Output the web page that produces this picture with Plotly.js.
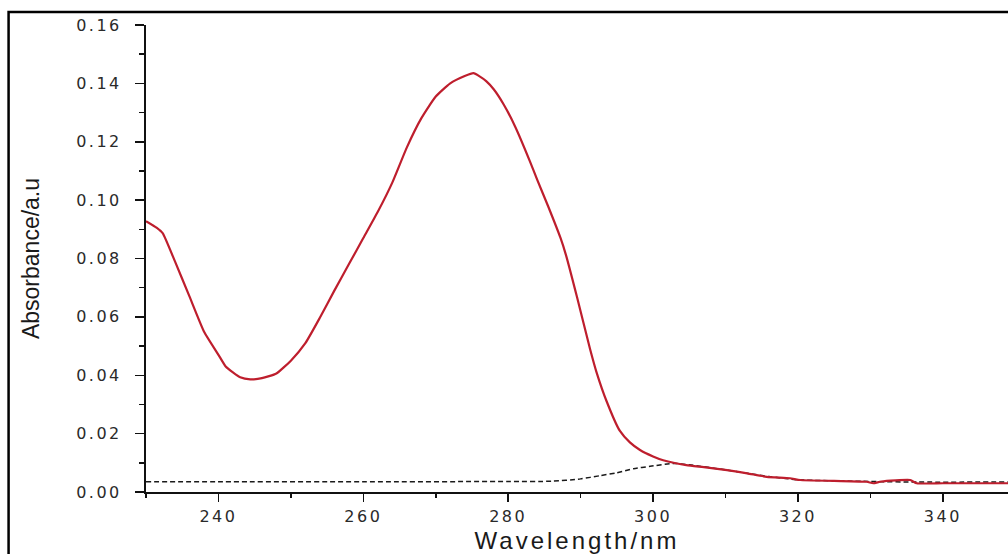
<!DOCTYPE html>
<html>
<head>
<meta charset="utf-8">
<script src="https://cdn.plot.ly/plotly-3.0.1.min.js"></script>
<style>
  html, body { margin: 0; padding: 0; background: #ffffff; }
  #chart { width: 1008px; height: 554px; }
  #chart .ytick text { letter-spacing: 2.5px; }
  #chart .xtick text { letter-spacing: 2.5px; }
  #chart .g-xtitle text { letter-spacing: 3px; }
</style>
</head>
<body>
<div id="chart"></div>
<script>
// Sample spectrum (red solid)
const sampleWavelength = [230, 231.5, 232.3, 234, 236, 238, 240, 241, 242, 243, 244.4, 246, 248, 250, 252, 254, 256, 258, 260, 262, 264, 266, 268, 270, 272, 274, 275.2, 276, 277, 278, 279.4, 281, 283, 284, 285.5, 287.2, 288, 289.5, 291.3, 292.2, 293.6, 295.4, 296.8, 298.2, 300, 301.4, 304.6, 307, 310.2, 313, 315.7, 318.9, 320.3, 325, 329.5, 330.4, 331.5, 335.5, 336.4, 340, 345, 349];
const sampleAbsorbance = [0.0928, 0.0905, 0.0887, 0.079, 0.067, 0.055, 0.047, 0.043, 0.041, 0.0393, 0.0386, 0.039, 0.0406, 0.045, 0.051, 0.0597, 0.069, 0.078, 0.087, 0.096, 0.106, 0.118, 0.128, 0.1355, 0.140, 0.1425, 0.1435, 0.1425, 0.1407, 0.138, 0.1327, 0.125, 0.1133, 0.107, 0.098, 0.0872, 0.081, 0.0668, 0.049, 0.041, 0.031, 0.021, 0.017, 0.0144, 0.0122, 0.0109, 0.0092, 0.0085, 0.0075, 0.0064, 0.0052, 0.0047, 0.0041, 0.0038, 0.0035, 0.003, 0.0036, 0.0041, 0.003, 0.003, 0.003, 0.003];

// Reference / blank spectrum (black dashed)
const blankWavelength = [230, 240, 260, 280, 286, 290, 292.7, 295, 297.3, 299.6, 302.8, 305, 310, 316, 320, 330, 336.4, 349];
const blankAbsorbance = [0.0035, 0.0035, 0.0035, 0.0036, 0.0037, 0.0045, 0.0056, 0.0066, 0.0080, 0.0088, 0.0098, 0.0093, 0.0076, 0.0053, 0.0042, 0.0036, 0.0034, 0.0034];

const yTickValues = [0, 0.02, 0.04, 0.06, 0.08, 0.10, 0.12, 0.14, 0.16];
const yTickLabels = ["0.00", "0.02", "0.04", "0.06", "0.08", "0.10", "0.12", "0.14", "0.16"];
const xTickValues = [240, 260, 280, 300, 320, 340];
const xTickLabels = ["240", "260", "280", "300", "320", "340"];

const traces = [
  {
    x: blankWavelength, y: blankAbsorbance, type: 'scatter', mode: 'lines',
    line: { color: '#1a1a1a', width: 1.5, dash: '5px,3px', shape: 'spline', smoothing: 0.6 },
    hoverinfo: 'skip', showlegend: false
  },
  {
    x: sampleWavelength, y: sampleAbsorbance, type: 'scatter', mode: 'lines',
    line: { color: '#be1e2d', width: 2.2, shape: 'spline', smoothing: 0.5 },
    hoverinfo: 'skip', showlegend: false
  }
];

const layout = {
  width: 1008, height: 554,
  margin: { l: 145.5, r: 0, t: 25, b: 62, pad: 0 },
  paper_bgcolor: '#ffffff', plot_bgcolor: '#ffffff',
  showlegend: false,
  xaxis: {
    range: [230, 349], autorange: false,
    showline: true, linecolor: '#111111', linewidth: 2,
    showgrid: false, zeroline: false,
    ticks: 'outside', ticklen: 8, tickwidth: 1.5, tickcolor: '#111111',
    tickmode: 'array', tickvals: xTickValues, ticktext: xTickLabels,
    minor: { tickmode: 'linear', tick0: 230, dtick: 10, ticks: 'outside', ticklen: 4, tickwidth: 1.5, tickcolor: '#111111', showgrid: false },
    tickfont: { family: 'DejaVu Sans, Liberation Sans, Arial, sans-serif', size: 16, color: '#2a2a2a' },
    ticklabelstandoff: 1,
    title: { text: 'Wavelength/nm', font: { family: 'Liberation Sans, Arial, sans-serif', size: 24, color: '#1a1a1a' }, standoff: 9 }
  },
  yaxis: {
    range: [0, 0.16], autorange: false,
    showline: true, linecolor: '#111111', linewidth: 2,
    showgrid: false, zeroline: false,
    ticks: 'outside', ticklen: 9, tickwidth: 1.5, tickcolor: '#111111',
    tickmode: 'array', tickvals: yTickValues, ticktext: yTickLabels,
    minor: { tickmode: 'linear', tick0: 0.01, dtick: 0.02, ticks: 'outside', ticklen: 5, tickwidth: 1.5, tickcolor: '#111111', showgrid: false },
    tickfont: { family: 'DejaVu Sans, Liberation Sans, Arial, sans-serif', size: 16, color: '#2a2a2a' },
    ticklabelstandoff: 10,
    title: { text: 'Absorbance/a.u', font: { family: 'Liberation Sans Narrow, Liberation Sans, Arial, sans-serif', size: 23, color: '#1a1a1a' }, standoff: 40 }
  },
  shapes: [
    {
      type: 'rect', xref: 'paper', yref: 'paper',
      x0: (8 - 145.5) / 862.5, x1: 1.2, y0: -0.4, y1: (492 - 12) / 467,
      line: { color: '#000000', width: 2.5 }, fillcolor: 'rgba(0,0,0,0)', layer: 'below'
    }
  ]
};

Plotly.newPlot('chart', traces, layout, { staticPlot: true, displayModeBar: false });
</script>
</body>
</html>
